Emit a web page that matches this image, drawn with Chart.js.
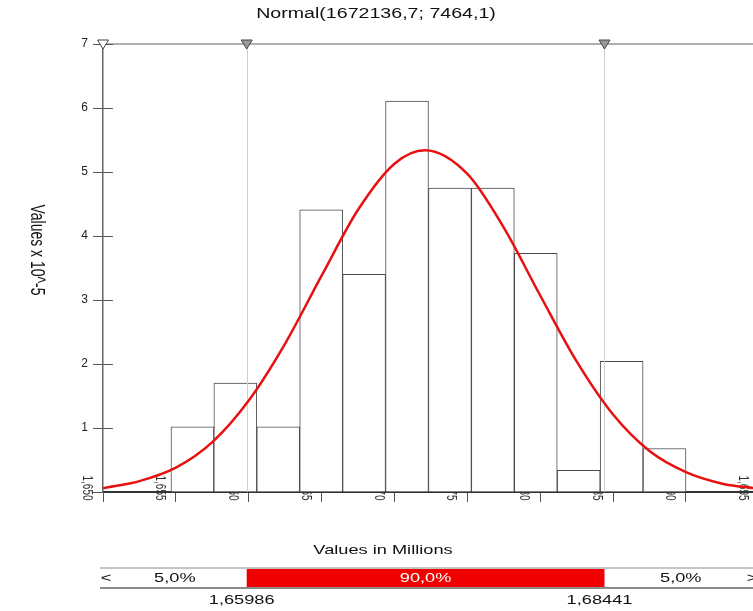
<!DOCTYPE html>
<html>
<head>
<meta charset="utf-8">
<script src="https://cdn.jsdelivr.net/npm/chart.js@4.4.0/dist/chart.umd.min.js"></script>
<style>
  html, body { margin: 0; padding: 0; background: #fff; }
</style>
</head>
<body>
<canvas id="myChart" width="753" height="611"></canvas>
<script>
// histogram bins (values in millions) and density (x 10^-5)
const binEdges = [1.65466, 1.65761, 1.66055, 1.66350, 1.66644, 1.66939, 1.67233,
                  1.67528, 1.67822, 1.68117, 1.68411, 1.68706, 1.69000];
const binDensity = [1.02, 1.70, 1.02, 4.41, 3.40, 6.11, 4.75, 4.75, 3.73, 0.34, 2.04, 0.68];

// fitted normal curve
const curveX = [1.6500, 1.6525, 1.6550, 1.6575, 1.6600, 1.6625, 1.6650, 1.6675, 1.6700, 1.6721,
                1.6750, 1.6775, 1.6800, 1.6825, 1.6850, 1.6875, 1.6900, 1.6925, 1.6950];
const curveY = [0.06, 0.17, 0.38, 0.78, 1.43, 2.32, 3.38, 4.41, 5.13, 5.34,
                4.97, 4.13, 3.07, 2.04, 1.21, 0.64, 0.31, 0.13, 0.05];

const xTickValues = [1.650, 1.655, 1.660, 1.665, 1.670, 1.675, 1.680, 1.685, 1.690, 1.695];
const xTickLabels = ["1,650", "1,655", "1,660", "1,665", "1,670", "1,675", "1,680", "1,685", "1,690", "1,695"];
const yTickValues = [1, 2, 3, 4, 5, 6, 7];

const pctMarks = [1.65986, 1.68441];
const pctLabels = ["1,65986", "1,68441"];
const pctShares = ["5,0%", "90,0%", "5,0%"];

const chartTitle = "Normal(1672136,7; 7464,1)";
const xTitle = "Values in Millions";
const yTitle = "Values x 10^-5";

const FONT = "'Liberation Sans', Arial, sans-serif";
const SX = 1.4; // the picture's text is stretched sideways
Chart.defaults.font.family = FONT;

function wideText(ctx, text, x, y, rot) {
  ctx.save();
  ctx.translate(x, y);
  ctx.scale(SX, 1);
  if (rot) ctx.rotate(rot);
  ctx.fillText(text, 0, 0);
  ctx.restore();
}

const decor = {
  id: 'decor',
  beforeDatasetsDraw(chart) {
    // tick labels sit partly behind the bars, as in the picture
    const { ctx, scales: { x } } = chart;
    ctx.save();
    ctx.fillStyle = '#333';
    ctx.font = "10px " + FONT;
    ctx.textAlign = 'center';
    ctx.textBaseline = 'middle';
    xTickValues.forEach((v, i) => {
      wideText(ctx, xTickLabels[i], x.getPixelForValue(v) - 16, 488, Math.PI / 2);
    });
    ctx.restore();
  },
  afterDatasetDraw(chart, args) {
    if (args.index !== 1) return;
    const { ctx, chartArea: a, scales: { x } } = chart;
    ctx.save();
    ctx.strokeStyle = '#cfcfcf';
    ctx.lineWidth = 1;
    pctMarks.forEach(v => {
      const px = Math.round(x.getPixelForValue(v)) + 0.5;
      ctx.beginPath();
      ctx.moveTo(px, a.top);
      ctx.lineTo(px, a.bottom);
      ctx.stroke();
    });
    ctx.restore();
  },
  afterDraw(chart) {
    const { ctx, chartArea: a, scales: { x, y } } = chart;
    ctx.save();

    // top frame line
    ctx.strokeStyle = '#b0b0b0';
    ctx.lineWidth = 2;
    ctx.beginPath();
    ctx.moveTo(a.left, a.top);
    ctx.lineTo(chart.width, a.top);
    ctx.stroke();

    // inner halves of the y ticks
    ctx.strokeStyle = '#555';
    ctx.lineWidth = 1;
    yTickValues.forEach(v => {
      const py = Math.round(y.getPixelForValue(v)) + 0.5;
      ctx.beginPath();
      ctx.moveTo(a.left, py);
      ctx.lineTo(a.left + 10, py);
      ctx.stroke();
    });

    // marker triangles
    [xTickValues[0]].concat(pctMarks).forEach((v, i) => {
      const px = x.getPixelForValue(v);
      ctx.beginPath();
      ctx.moveTo(px - 5.5, a.top - 4);
      ctx.lineTo(px + 5.5, a.top - 4);
      ctx.lineTo(px, a.top + 5);
      ctx.closePath();
      ctx.fillStyle = i === 0 ? '#fff' : '#9a9a9a';
      ctx.fill();
      ctx.strokeStyle = '#444';
      ctx.lineWidth = 1;
      ctx.stroke();
    });

    // titles
    ctx.fillStyle = '#111';
    ctx.textAlign = 'center';
    ctx.textBaseline = 'middle';
    ctx.font = "14px " + FONT;
    wideText(ctx, chartTitle, 376, 14);
    ctx.font = "13px " + FONT;
    wideText(ctx, xTitle, 383, 550);
    ctx.font = "14px " + FONT;
    wideText(ctx, yTitle, 36, 250, Math.PI / 2);

    // percentile strip
    const p1 = x.getPixelForValue(pctMarks[0]);
    const p2 = x.getPixelForValue(pctMarks[1]);
    ctx.strokeStyle = '#c4c4c4';
    ctx.lineWidth = 2;
    ctx.beginPath();
    ctx.moveTo(100, 568);
    ctx.lineTo(chart.width, 568);
    ctx.stroke();
    ctx.fillStyle = '#f00000';
    ctx.fillRect(p1, 569, p2 - p1, 18);
    ctx.strokeStyle = '#666';
    ctx.lineWidth = 1.5;
    ctx.beginPath();
    ctx.moveTo(100, 588);
    ctx.lineTo(chart.width, 588);
    ctx.stroke();

    ctx.font = "13px " + FONT;
    ctx.fillStyle = '#fff';
    wideText(ctx, pctShares[1], (p1 + p2) / 2, 578);
    ctx.fillStyle = '#111';
    wideText(ctx, pctShares[0], (a.left + p1) / 2, 578);
    wideText(ctx, pctShares[2], (p2 + a.right) / 2 + 2, 578);
    wideText(ctx, "<", a.left + 3, 578);
    wideText(ctx, ">", a.right - 1, 578);
    pctLabels.forEach((t, i) => {
      wideText(ctx, t, (i === 0 ? p1 : p2) - 5, 600);
    });

    ctx.restore();
  }
};

const myChart = new Chart("myChart", {
  type: 'bar',
  data: {
    datasets: [{
      type: 'line',
      label: 'Normal fit',
      data: curveX.map((v, i) => ({ x: v, y: curveY[i] })),
      borderColor: '#e81010',
      borderWidth: 2.5,
      pointRadius: 0,
      fill: false,
      cubicInterpolationMode: 'monotone',
      order: 0
    }, {
      type: 'bar',
      label: 'Histogram',
      data: binDensity.map((v, i) => ({ x: (binEdges[i] + binEdges[i + 1]) / 2, y: v })),
      backgroundColor: '#fff',
      borderColor: '#4a4a4a',
      borderWidth: 1,
      barPercentage: 1,
      categoryPercentage: 1,
      order: 1
    }]
  },
  options: {
    responsive: false,
    animation: false,
    layout: { padding: { top: 44, left: 0, right: 0, bottom: 0 } },
    plugins: {
      legend: { display: false },
      title: { display: false },
      tooltip: { enabled: false }
    },
    scales: {
      x: {
        type: 'linear',
        min: 1.650,
        max: 1.6946,
        offset: false,
        ticks: { display: false, stepSize: 0.005, includeBounds: false },
        grid: { offset: false, drawOnChartArea: false, tickLength: 10, color: '#555' },
        border: { color: '#333', width: 2 },
        afterFit(scale) { scale.height = 119; }
      },
      y: {
        min: 0,
        max: 7,
        ticks: {
          stepSize: 1,
          padding: 5,
          color: '#222',
          font: { size: 12 },
          callback: v => (v === 0 ? '' : v)
        },
        grid: { drawOnChartArea: false, tickLength: 10, color: '#555' },
        border: { color: '#666', width: 1.5 },
        afterFit(scale) { scale.width = 103; }
      }
    }
  },
  plugins: [decor]
});
</script>
</body>
</html>
